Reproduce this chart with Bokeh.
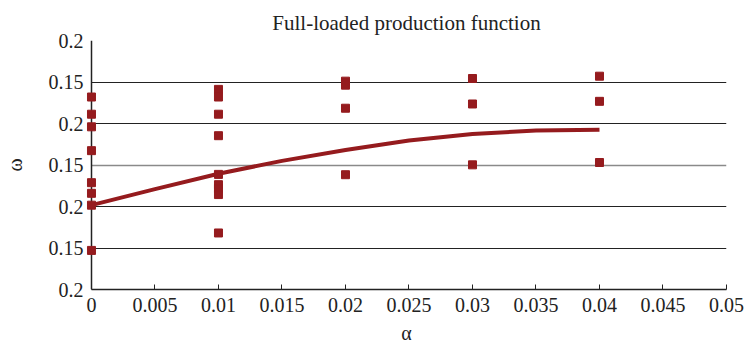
from bokeh.plotting import figure
from bokeh.models import Range1d, FixedTicker, Grid
from bokeh.embed import file_html
from bokeh.resources import INLINE

# Fitted production function (line)
alpha_line = [0.0, 0.005, 0.01, 0.015, 0.02, 0.025, 0.03, 0.035, 0.04]
omega_line = [0.3016, 0.3210, 0.3395, 0.3550, 0.3680, 0.3794, 0.3873, 0.3915, 0.3924]

# Observed points (alpha, omega)
pts_alpha = ([0.0] * 8) + ([0.01] * 9) + ([0.02] * 4) + ([0.03] * 3) + ([0.04] * 3)
pts_omega = [0.4319, 0.4112, 0.3960, 0.3673, 0.3287, 0.3159, 0.3016, 0.2471,
             0.4411, 0.4319, 0.4112, 0.3853, 0.3387, 0.3263, 0.3216, 0.3144, 0.2681,
             0.4510, 0.4462, 0.4184, 0.3383,
             0.4542, 0.4235, 0.3502,
             0.4570, 0.4267, 0.3530]

x_ticks = [0.0, 0.005, 0.01, 0.015, 0.02, 0.025, 0.03, 0.035, 0.04, 0.045, 0.05]
x_tick_labels = ["0", "0.005", "0.01", "0.015", "0.02", "0.025", "0.03",
                 "0.035", "0.04", "0.045", "0.05"]
y_ticks = [0.2, 0.25, 0.3, 0.35, 0.4, 0.45, 0.5]
y_tick_labels = ["0.2", "0.15", "0.2", "0.15", "0.2", "0.15", "0.2"]

FONT = "Liberation Serif"
RED = "#951B1E"
INK = "#222222"

x_lo, x_hi = x_ticks[0], x_ticks[-1]
y_lo, y_hi = y_ticks[0], y_ticks[-1]
pad = 5.0 / 12760.0  # small room so markers on alpha=0 are not clipped

p = figure(width=746, height=346, output_backend="svg", toolbar_location=None,
           x_range=Range1d(x_lo - pad, x_hi), y_range=Range1d(y_lo, y_hi),
           min_border_left=83, min_border_right=20, min_border_top=40,
           min_border_bottom=55, title="Full-loaded production function")

p.title.text_font = FONT
p.title.text_font_size = "21px"
p.title.text_font_style = "normal"
p.title.align = "center"
p.title.text_color = INK
p.title.standoff = 12

p.outline_line_color = None
p.background_fill_color = "white"
p.border_fill_color = "white"

# axes
p.xaxis.ticker = FixedTicker(ticks=x_ticks)
p.xaxis.major_label_overrides = dict(zip(x_ticks, x_tick_labels))
p.xaxis.bounds = (x_lo, x_hi)
p.yaxis.ticker = FixedTicker(ticks=y_ticks)
p.yaxis.major_label_overrides = dict(zip(y_ticks, y_tick_labels))
p.xaxis.axis_label = "α"
p.yaxis.axis_label = "ω"
for ax in (p.xaxis, p.yaxis):
    ax.axis_line_color = INK
    ax.axis_line_width = 1.5
    ax.major_tick_line_color = INK
    ax.major_tick_in = 5
    ax.major_tick_out = 0
    ax.minor_tick_line_color = None
    ax.major_label_text_font = FONT
    ax.major_label_text_font_size = "20px"
    ax.major_label_text_color = INK
    ax.axis_label_text_font = FONT
    ax.axis_label_text_font_size = "20px"
    ax.axis_label_text_font_style = "normal"
    ax.axis_label_text_color = INK
p.yaxis.axis_line_color = None
p.yaxis.major_tick_line_color = None
p.xaxis.major_label_standoff = 8
p.xaxis.axis_label_standoff = 7
p.yaxis.major_label_standoff = 3
p.yaxis.axis_label_standoff = 20

# grid lines limited to the data area (0 .. 0.05)
p.xgrid.grid_line_color = None
p.ygrid.grid_line_color = None
dark_rows = [t for t in y_ticks[1:-1] if abs(t - 0.35) > 1e-9]
grey_rows = [0.35]
p.add_layout(Grid(dimension=1, ticker=FixedTicker(ticks=dark_rows),
                  grid_line_color=INK, grid_line_width=1.2,
                  cross_bounds=(x_lo, x_hi)))
p.add_layout(Grid(dimension=1, ticker=FixedTicker(ticks=grey_rows),
                  grid_line_color="#8a8a8a", grid_line_width=1.5,
                  cross_bounds=(x_lo, x_hi)))
p.add_layout(Grid(dimension=1, ticker=FixedTicker(ticks=[y_hi]),
                  grid_line_color="#8a8a8a", grid_line_width=2,
                  cross_bounds=(x_lo, x_hi)))
# right border
p.add_layout(Grid(dimension=0, ticker=FixedTicker(ticks=[x_hi]),
                  grid_line_color="#b8b8b8", grid_line_width=2))
# left axis line at alpha = 0
p.add_layout(Grid(dimension=0, ticker=FixedTicker(ticks=[x_lo]),
                  grid_line_color=INK, grid_line_width=1.5))

p.line(alpha_line, omega_line, line_color=RED, line_width=4)
p.scatter(pts_alpha, pts_omega, marker="square", size=8,
          fill_color=RED, line_color=RED)

open("out.html", "w").write(file_html(p, INLINE))
